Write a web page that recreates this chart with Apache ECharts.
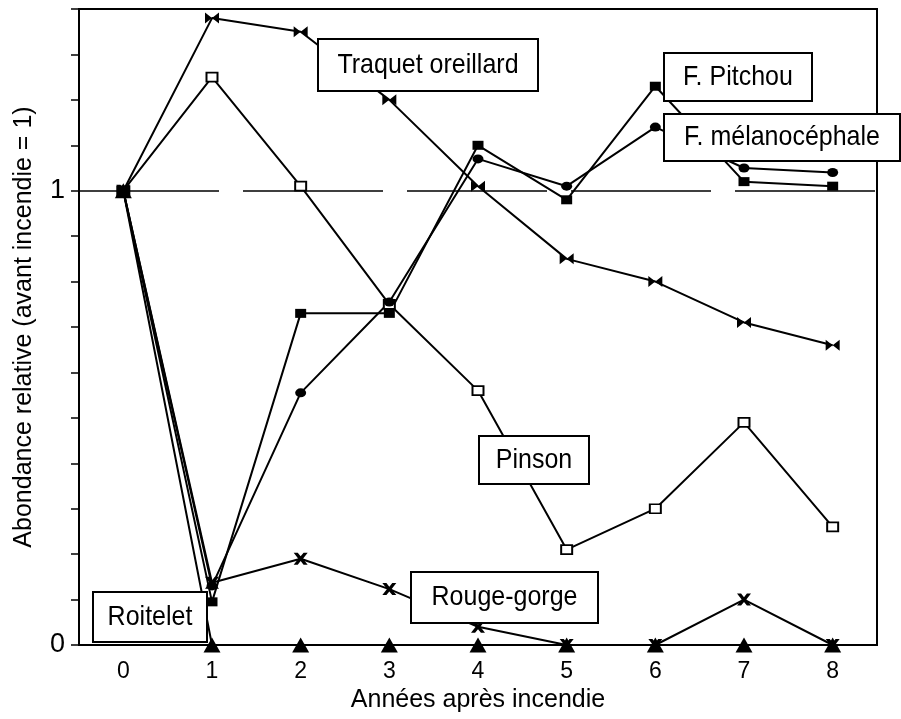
<!DOCTYPE html>
<html>
<head>
<meta charset="utf-8">
<script src="https://cdn.jsdelivr.net/npm/echarts@6/dist/echarts.min.js"></script>
<style>
  html, body { margin: 0; padding: 0; background: #fff; }
  #chart { width: 901px; height: 719px; }
</style>
</head>
<body>
<div id="chart"></div>
<script>
// années après incendie
const years = ['0', '1', '2', '3', '4', '5', '6', '7', '8']

// abondance relative (avant incendie = 1)
const traquet = [1, 1.38, 1.35, 1.20, 1.01, 0.85, 0.80, 0.71, 0.66]
const pinson = [1, 1.25, 1.01, 0.75, 0.56, 0.21, 0.30, 0.49, 0.26]
const pitchou = [1, 0.095, 0.73, 0.73, 1.10, 0.98, 1.23, 1.02, 1.01]
const melano = [1, 0.13, 0.555, 0.755, 1.07, 1.01, 1.14, 1.05, 1.04]
const rougeGorge = [1, 0.137, 0.19, 0.123, 0.04, 0, 0, 0.10, 0]
const roitelet = [1, 0, 0, 0, 0, 0, 0, 0, 0]

// étiquettes encadrées: texte, x, y, largeur, hauteur
const labels = [
  ['Traquet oreillard', 317, 38, 220, 52],
  ['F. Pitchou', 663, 52, 148, 48],
  ['F. mélanocéphale', 663, 113, 236, 47],
  ['Pinson', 478, 435, 110, 48],
  ['Rouge-gorge', 410, 571, 187, 51],
  ['Roitelet', 92, 591, 114, 50]
]

const FONT = '"Liberation Sans", Arial, Helvetica, sans-serif'
const BOWTIE = 'path://M0,0L6,4L12,0L12,8L6,4L0,8Z'
const CROSS = 'path://M0,0L3.5,0L6,3L8.5,0L12,0L8,5L12,10L8.5,10L6,7L3.5,10L0,10L4,5Z'

function line(name, data, symbol, size, fill, z) {
  return {
    name,
    type: 'line',
    data,
    z: z || 2,
    symbol,
    symbolSize: size,
    showAllSymbol: true,
    clip: false,
    lineStyle: { color: '#000', width: 2 },
    itemStyle: { color: fill || '#000', borderColor: '#000', borderWidth: fill ? 1.8 : 0 }
  }
}

const chart = echarts.init(document.getElementById('chart'))

const series = [
  line('Traquet oreillard', traquet, BOWTIE, [14, 11]),
  line('Pinson', pinson, 'rect', [11, 9], '#fff'),
  line('F. Pitchou', pitchou, 'rect', [11, 9]),
  line('F. mélanocéphale', melano, 'circle', [11, 9]),
  line('Rouge-gorge', rougeGorge, CROSS, [14, 12]),
  line('Roitelet', roitelet, 'triangle', [17, 15], null, 5)
]

// ligne pointillée au niveau avant incendie
series[0].markLine = {
  silent: true,
  symbol: ['none', 'none'],
  label: { show: false },
  lineStyle: { color: '#000', width: 1.5, type: [140, 24] },
  data: [{ yAxis: 1 }]
}

chart.setOption({
  animation: false,
  backgroundColor: '#fff',
  grid: {
    left: 79, right: 24, top: 9, bottom: 74,
    show: true, borderColor: '#000', borderWidth: 2
  },
  xAxis: {
    type: 'category',
    data: years,
    boundaryGap: true,
    name: 'Années après incendie',
    nameLocation: 'middle',
    nameGap: 40,
    nameTextStyle: { color: '#000', fontSize: 25, fontFamily: FONT },
    axisLine: { lineStyle: { color: '#000', width: 2 } },
    axisTick: { alignWithLabel: true, length: 7, lineStyle: { color: '#000', width: 1.5 } },
    axisLabel: { color: '#000', fontSize: 23, fontFamily: FONT, margin: 15 },
    splitLine: { show: false }
  },
  yAxis: {
    type: 'value',
    min: 0,
    max: 1.4,
    interval: 0.1,
    name: 'Abondance relative (avant incendie = 1)',
    nameLocation: 'middle',
    nameGap: 42,
    nameTextStyle: { color: '#000', fontSize: 25, fontFamily: FONT },
    axisLine: { show: true, lineStyle: { color: '#000', width: 2 } },
    axisTick: { show: true, length: 8, lineStyle: { color: '#000', width: 1.5 } },
    axisLabel: {
      color: '#000', fontSize: 27, fontFamily: FONT, margin: 14,
      formatter: v => (Math.abs(v) < 1e-9 ? '0' : Math.abs(v - 1) < 1e-9 ? '1' : '')
    },
    splitLine: { show: false }
  },
  graphic: labels.map(([text, x, y, w, h]) => ({
    type: 'group',
    left: x,
    top: y,
    z: 100,
    children: [
      {
        type: 'rect',
        z: 100,
        shape: { x: 0, y: 0, width: w, height: h },
        style: { fill: '#fff', stroke: '#000', lineWidth: 2 }
      },
      {
        type: 'text',
        z: 101,
        x: w / 2,
        y: h / 2,
        scaleY: 1.12,
        style: {
          text, fill: '#000', fontSize: 25, fontFamily: FONT,
          align: 'center', verticalAlign: 'middle'
        }
      }
    ]
  })),
  series
})
</script>
</body>
</html>
